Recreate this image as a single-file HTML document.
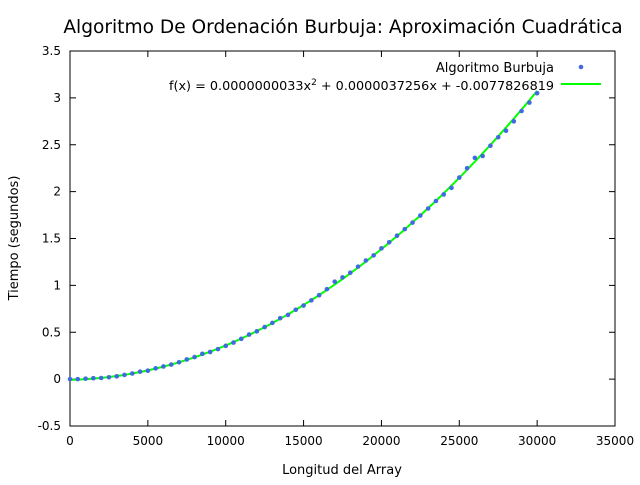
<!DOCTYPE html>
<html><head><meta charset="utf-8"><style>
body{margin:0;background:#fff}
svg text{font-family:"DejaVu Sans","Liberation Sans",sans-serif;fill:#000}
</style></head><body>
<svg id="chart" width="640" height="480" xmlns="http://www.w3.org/2000/svg">
<text x="343" y="33" font-size="18.6" text-anchor="middle">Algoritmo De Ordenación Burbuja: Aproximación Cuadrática</text>
<text x="342" y="474" font-size="13" text-anchor="middle">Longitud del Array</text>
<text transform="translate(18,238) rotate(-90)" font-size="13" text-anchor="middle">Tiempo (segundos)</text>
<g id="axes"></g>
<g id="marks"></g>
<g>
<text x="554" y="72" font-size="13" text-anchor="end">Algoritmo Burbuja</text>
<circle cx="581" cy="67" r="2.3" fill="#4169e1"/>
<text x="554" y="90" font-size="12.8" text-anchor="end">f(x) = 0.0000000033x<tspan font-size="9" dy="-5">2</tspan><tspan dy="5"> + 0.0000037256x + -0.0077826819</tspan></text>
<line x1="561" y1="84" x2="601" y2="84" stroke="#00ff00" stroke-width="2"/>
</g>
</svg>
<script>
const xTicks=[0,5000,10000,15000,20000,25000,30000,35000];
const yTicks=[-0.5,0,0.5,1,1.5,2,2.5,3,3.5];
const yTickLabels=["-0.5","0","0.5","1","1.5","2","2.5","3","3.5"];
const sizes=[0,500,1000,1500,2000,2500,3000,3500,4000,4500,5000,5500,6000,6500,7000,7500,8000,8500,9000,9500,10000,10500,11000,11500,12000,12500,13000,13500,14000,14500,15000,15500,16000,16500,17000,17500,18000,18500,19000,19500,20000,20500,21000,21500,22000,22500,23000,23500,24000,24500,25000,25500,26000,26500,27000,27500,28000,28500,29000,29500,30000];
const times=[0.0,0.0,0.005,0.01,0.012,0.02,0.03,0.045,0.06,0.08,0.09,0.115,0.135,0.155,0.18,0.21,0.235,0.27,0.29,0.32,0.355,0.39,0.43,0.475,0.51,0.555,0.60,0.65,0.685,0.74,0.785,0.84,0.895,0.96,1.04,1.085,1.135,1.20,1.265,1.32,1.395,1.46,1.53,1.60,1.67,1.745,1.82,1.90,1.97,2.04,2.15,2.25,2.36,2.38,2.49,2.58,2.65,2.75,2.86,2.95,3.05];
const fitCoef=[0.0000000033,0.0000037256,-0.0077826819];
const fitRange=[0,30000];
const NS="http://www.w3.org/2000/svg";
const L=70,R=615,T=51,B=426,xMin=0,xMax=35000,yMin=-0.5,yMax=3.5;
const sx=v=>L+(v-xMin)/(xMax-xMin)*(R-L);
const sy=v=>B-(v-yMin)/(yMax-yMin)*(B-T);
function mk(t,a,p){const e=document.createElementNS(NS,t);for(const k in a)e.setAttribute(k,a[k]);p.appendChild(e);return e;}
const ax=document.getElementById('axes'),mg=document.getElementById('marks');
const fr=mk('rect',{x:L,y:T,width:R-L,height:B-T,fill:'none',stroke:'#000','stroke-width':1},ax);


xTicks.forEach(v=>{const x=sx(v);
mk('line',{x1:x,y1:B,x2:x,y2:B-6,stroke:'#000'},ax);mk('line',{x1:x,y1:T,x2:x,y2:T+6,stroke:'#000'},ax);
const t=mk('text',{x:x,y:B+19,'font-size':12,'text-anchor':'middle'},ax);t.textContent=String(v);

});
yTicks.forEach((v,i)=>{const y=sy(v);
mk('line',{x1:L,y1:y,x2:L+6,y2:y,stroke:'#000'},ax);mk('line',{x1:R,y1:y,x2:R-6,y2:y,stroke:'#000'},ax);
const t=mk('text',{x:L-9,y:y+4,'font-size':12,'text-anchor':'end'},ax);t.textContent=yTickLabels[i];

});
let d='';for(let i=0;i<=120;i++){const x=fitRange[0]+(fitRange[1]-fitRange[0])*i/120;const y=fitCoef[0]*x*x+fitCoef[1]*x+fitCoef[2];d+=(i?'L':'M')+sx(x).toFixed(2)+','+sy(y).toFixed(2);}
const p=mk('path',{d:d,fill:'none',stroke:'#00ff00','stroke-width':2},mg);


sizes.forEach((s,i)=>{const c=mk('circle',{cx:sx(s),cy:sy(times[i]),r:2.3,fill:'#4169e1'},mg);

});
</script>
</body></html>
